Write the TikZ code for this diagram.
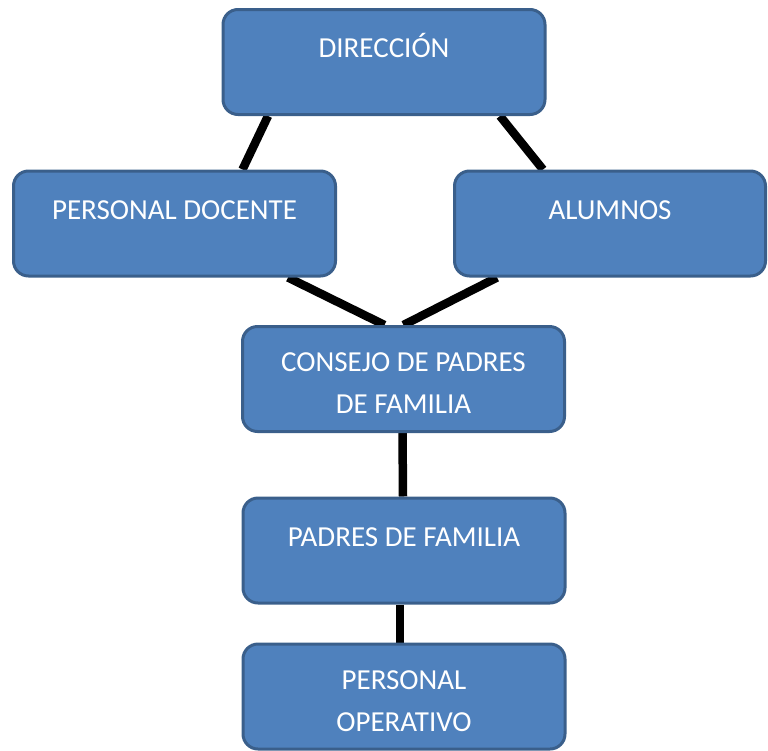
\documentclass[tikz,border=0pt]{standalone}
\usepackage{fontspec}
\setmainfont{Carlito}
\usetikzlibrary{backgrounds}
\definecolor{boxfill}{HTML}{4F81BD}
\definecolor{boxline}{HTML}{3A5F8B}

\begin{document}
\begin{tikzpicture}[x=1pt, y=-1pt,
  every node/.style={font=\fontsize{29}{42}\selectfont},
  org/.style={draw=boxline, fill=boxfill, line width=3pt, rounded corners=15pt,
    text=white, align=center, inner sep=0pt, minimum width=322pt,
    minimum height=105pt, text height=48pt, text depth=57pt},
  twoline/.style={text height=87pt, text depth=18pt},
  link/.style={line width=8.5pt}]
  \useasboundingbox (0,0) rectangle (768,750);

  \node[org] (dir) at (384,62) {DIRECCIÓN};
  \node[org] (doc) at (174.5,223.5) {PERSONAL DOCENTE};
  \node[org, minimum width=311pt] (alu) at (610,223.5) {ALUMNOS};
  \node[org, twoline] (cons) at (403.5,379) {CONSEJO DE PADRES\\DE FAMILIA};
  \node[org] (pad) at (404,550.5) {PADRES DE FAMILIA};
  \node[org, twoline] (oper) at (404,696.5) {PERSONAL\\OPERATIVO};

  \begin{scope}[on background layer]
    \draw[link] ([xshift=-116pt]dir.south) -- ([xshift=68pt]doc.north);
    \draw[link] ([xshift=116pt]dir.south) -- ([xshift=-67pt]alu.north);
    \draw[link] ([xshift=113.5pt]doc.south) -- ([xshift=-19pt]cons.north);
    \draw[link] ([xshift=-113pt]alu.south) -- (cons.north);
    \draw[link] ([xshift=-1pt]cons.south) -- ([xshift=-1pt]pad.north);
    \draw[link] ([xshift=-4pt]pad.south) -- ([xshift=-4pt]oper.north);
  \end{scope}
\end{tikzpicture}
\end{document}
